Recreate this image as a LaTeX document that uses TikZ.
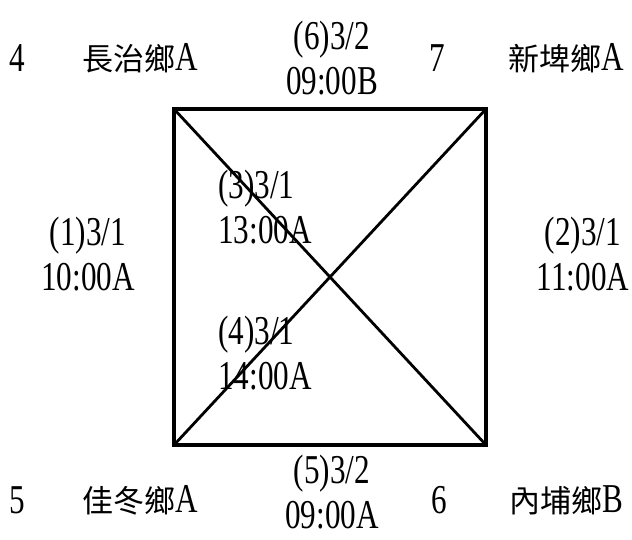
\documentclass[tikz,border=0pt]{standalone}
\usepackage{fontspec}
\setmainfont[FakeStretch=0.76]{Liberation Serif}
\newfontfamily\cjk[Scale=0.756]{Noto Sans CJK TC}

\begin{document}
\begin{tikzpicture}[
  x=1pt,y=-1pt,
  frame/.style={draw=black,line width=3.4pt,line join=miter},
  cross/.style={draw=black,line width=2.8pt},
  txt/.style={font=\fontsize{41}{45}\selectfont,text=black,inner sep=0pt},
  slot/.style={txt,align=center},
  inslot/.style={txt,align=left,anchor=west},
]
\useasboundingbox (0,0) rectangle (632,539);

% corners of the square
\coordinate (nw) at (174,109);
\coordinate (ne) at (486,109);
\coordinate (se) at (486,445);
\coordinate (sw) at (174,445);

\draw[frame] (nw) -- (ne) -- (se) -- (sw) -- cycle;
\draw[cross] (nw) -- (se);
\draw[cross] (sw) -- (ne);

% top row
\node[txt] (n4) at (17,58) {4};
\node[txt] (t4) at (140,58) {{\cjk 長治鄉}A};
\node[slot] (s6) at (332,58) {(6)3/2\\09:00B};
\node[txt] (n7) at (437,58) {7};
\node[txt] (t7) at (566,58) {{\cjk 新埤鄉}A};

% sides
\node[slot] (s1) at (88,254) {(1)3/1\\10:00A};
\node[slot] (s2) at (583,254) {(2)3/1\\11:00A};
\node[inslot] (s3) at (218,207) {(3)3/1\\13:00A};
\node[inslot] (s4) at (218,353) {(4)3/1\\14:00A};

% bottom row
\node[txt] (n5) at (17,500) {5};
\node[txt] (t5) at (140,500) {{\cjk 佳冬鄉}A};
\node[slot] (s5) at (332,492) {(5)3/2\\09:00A};
\node[txt] (n6) at (439,500) {6};
\node[txt] (t6) at (566,500) {{\cjk 內埔鄉}B};

\end{tikzpicture}
\end{document}
